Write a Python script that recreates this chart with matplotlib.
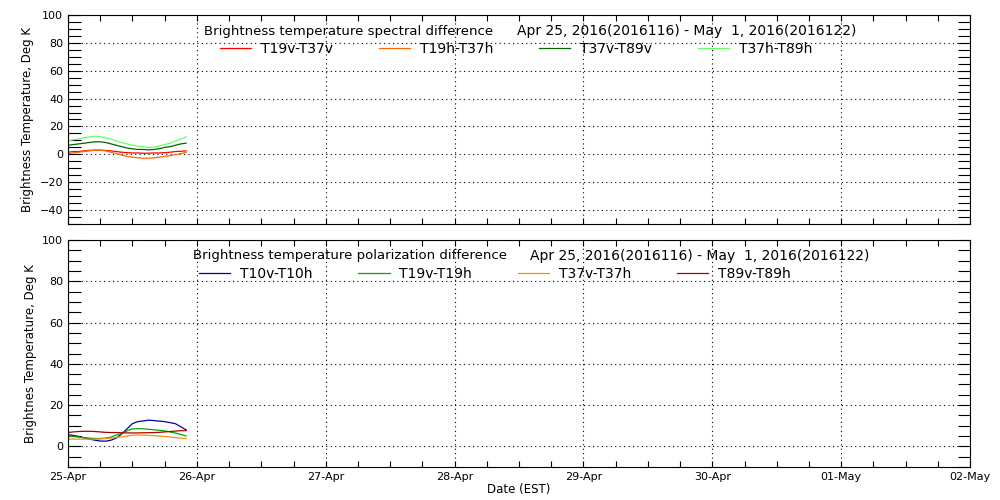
import numpy as np
import pandas as pd
import matplotlib
matplotlib.use('Agg')
import matplotlib.pyplot as plt
import matplotlib.dates as mdates
from matplotlib.ticker import MultipleLocator

plt.rcParams['font.family'] = ['DejaVu Sans']

# hourly samples, 25-Apr 00:00 .. 22:00
times = pd.date_range('2016-04-25 00:00', periods=23, freq='h')

# spectral differences
t19v_t37v = [1.5, 2, 2, 2.5, 2.8, 3, 3, 2.8, 2.5, 2, 1.5, 1.2, 1, 1, 0.8, 0.8, 1, 1, 1.2, 1.5, 2, 2.2, 2.5]
t19h_t37h = [0.5, 1, 1.5, 2, 2.5, 3, 3, 2.5, 1.5, 0.5, -0.5, -1.5, -2, -2.5, -2.8, -2.8, -2.5, -2, -1.5, -1, -0.2, 0.5, 1.5]
t37v_t89v = [6.5, 7, 7.5, 8, 8.5, 9, 9, 8.5, 7.5, 6.5, 5.5, 4.5, 4, 3.5, 3.5, 3.2, 3.5, 4, 5, 5.5, 6.5, 7.5, 8]
t37h_t89h = [9.5, 10.5, 11, 12, 12.5, 13, 12.8, 12, 11, 9.5, 8.5, 7.5, 6.5, 5.8, 5.5, 5, 5.2, 6, 7, 8, 9.5, 11, 12.5]

# polarization differences
t10v_t10h = [5.7, 5.3, 4.8, 4.2, 3.5, 3, 2.6, 2.5, 3, 4, 6, 8.5, 11, 12, 12.3, 12.7, 12.5, 12.2, 12, 11.5, 11, 9.5, 8]
t19v_t19h = [5, 4.8, 4.5, 4.2, 4, 3.8, 3.8, 4, 4.5, 5.5, 6.2, 7.5, 8.5, 8.6, 8.5, 8.3, 8, 7.8, 7.5, 7, 6.5, 5.8, 5]
t37v_t37h = [3.5, 3.5, 3.5, 3.5, 3.5, 3.5, 3.6, 3.8, 4, 4.3, 4.6, 5, 5.4, 5.5, 5.5, 5.3, 5.2, 5, 4.8, 4.5, 4.2, 4, 3.8]
t89v_t89h = [6.7, 7, 7.2, 7.3, 7.3, 7.2, 7, 6.8, 6.7, 6.7, 6.6, 6.5, 6.5, 6.5, 6.6, 6.6, 6.7, 6.8, 7, 7.2, 7.4, 7.6, 7.6]

date_text = 'Apr 25, 2016(2016116) - May  1, 2016(2016122)'

W, H = 1000, 500
fig = plt.figure(figsize=(10, 5), dpi=100)
ax1 = fig.add_axes([0.068, 0.552, 0.902, 0.418])
ax2 = fig.add_axes([0.068, 0.066, 0.902, 0.454])

xmin = pd.Timestamp('2016-04-25')
xmax = pd.Timestamp('2016-05-02')


def style(ax, ylo, yhi):
    ax.set_xlim(xmin, xmax)
    ax.set_ylim(ylo, yhi)
    ax.xaxis.set_major_locator(mdates.DayLocator())
    ax.xaxis.set_minor_locator(mdates.HourLocator(byhour=[6, 12, 18]))
    ax.xaxis.set_major_formatter(mdates.DateFormatter('%d-%b'))
    ax.yaxis.set_major_locator(MultipleLocator(20))
    ax.yaxis.set_minor_locator(MultipleLocator(5))
    ax.grid(True, which='major', linestyle=(0, (1, 3)), color='black', linewidth=0.8)
    ax.tick_params(which='both', direction='in', top=True, right=True, labelsize=8, width=0.8)
    ax.tick_params(axis='y', which='both', length=9)
    ax.tick_params(axis='x', which='both', length=4)
    for s in ax.spines.values():
        s.set_linewidth(0.8)


def legend_at(ax, px, py):
    ax.legend(loc='center left', bbox_to_anchor=(px / W, 1 - py / H),
              bbox_transform=fig.transFigure, ncol=4, frameon=False,
              fontsize=10, handlelength=2.25, handletextpad=0.7,
              columnspacing=3.3, borderpad=0, borderaxespad=0)


style(ax1, -50, 100)
ax1.plot(times, t19v_t37v, color='#ff0000', lw=0.9, label='T19v-T37v')
ax1.plot(times, t19h_t37h, color='#ff6a00', lw=0.9, label='T19h-T37h')
ax1.plot(times, t37v_t89v, color='#006400', lw=0.9, label='T37v-T89v')
ax1.plot(times, t37h_t89h, color='#66ff66', lw=0.9, label='T37h-T89h')
ax1.tick_params(labelbottom=False)
ax1.set_ylabel('Brightness Temperature, Deg K', fontsize=8.5)
fig.text(204 / W, 1 - 31 / H, 'Brightness temperature spectral difference',
         fontsize=9.5, va='center')
fig.text(517 / W, 1 - 31 / H, date_text, fontsize=10, va='center')
legend_at(ax1, 220, 49)

style(ax2, -10, 100)
ax2.plot(times, t10v_t10h, color='#0000aa', lw=0.9, label='T10v-T10h')
ax2.plot(times, t19v_t19h, color='#00aa00', lw=0.9, label='T19v-T19h')
ax2.plot(times, t37v_t37h, color='#ff8c00', lw=0.9, label='T37v-T37h')
ax2.plot(times, t89v_t89h, color='#aa0000', lw=0.9, label='T89v-T89h')
ax2.set_ylabel('Brightnes Temperature, Deg K', fontsize=8.5)
ax2.set_xlabel('Date (EST)', fontsize=8.5, labelpad=1)
fig.text(193 / W, 1 - 256 / H, 'Brightness temperature polarization difference',
         fontsize=9.5, va='center')
fig.text(530 / W, 1 - 256 / H, date_text, fontsize=10, va='center')
legend_at(ax2, 199, 274)

fig.savefig('out.png', dpi=100)
